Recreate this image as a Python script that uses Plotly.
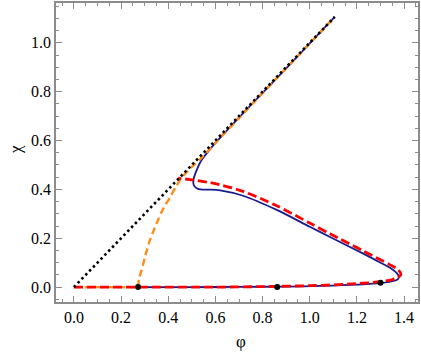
import plotly.graph_objects as go

# diagonal chi = phi
diag_x = [0.0, 1.106]
diag_y = [0.0, 1.106]

# blue solid curve (from top of diagonal, round the loop, back to the left dot)
blue_x = [1.106, 0.90, 0.75, 0.64, 0.575, 0.54, 0.52, 0.507, 0.508, 0.52, 0.545,
          0.58, 0.62, 0.717, 0.86, 1.0, 1.086, 1.227, 1.30, 1.345, 1.368, 1.378,
          1.374, 1.36, 1.30, 1.20, 1.05, 0.90, 0.70, 0.50, 0.272]
blue_y = [1.106, 0.895, 0.745, 0.632, 0.562, 0.518, 0.478, 0.44, 0.418, 0.405, 0.399,
          0.399, 0.396, 0.374, 0.316, 0.247, 0.205, 0.137, 0.100, 0.076, 0.058, 0.043,
          0.033, 0.026, 0.016, 0.010, 0.005, 0.002, 0.001, 0.0, 0.0]

# orange dashed: flat piece then square-root like rise onto the diagonal
orange_flat_x = [0.0, 0.272]
orange_flat_y = [0.0, 0.0]
orange_x = [0.272, 0.276, 0.287, 0.301, 0.322, 0.35, 0.378, 0.407, 0.435, 0.463,
            0.50, 0.54, 0.60, 0.70, 0.85, 1.0, 1.106]
orange_y = [0.0, 0.035, 0.069, 0.123, 0.191, 0.259, 0.32, 0.367, 0.415, 0.455,
            0.492, 0.528, 0.590, 0.692, 0.845, 0.997, 1.106]

# red dashed: bottom branch out to the nose, then upper branch back
red_x = [0.0, 0.30, 0.60, 0.80, 1.0, 1.16, 1.30, 1.35, 1.375, 1.386, 1.384,
         1.37, 1.339, 1.227, 1.086, 1.0, 0.86, 0.717, 0.62, 0.576, 0.50, 0.442]
red_y = [0.0, 0.0, 0.0, 0.002, 0.006, 0.012, 0.022, 0.031, 0.040, 0.050, 0.060,
         0.075, 0.092, 0.148, 0.218, 0.262, 0.333, 0.392, 0.419, 0.428, 0.439, 0.446]

# marked points
pts_x = [0.272, 0.862, 1.300]
pts_y = [0.0, 0.0, 0.018]

SERIF = 'Liberation Serif'

fig = go.Figure()
fig.add_trace(go.Scatter(x=blue_x, y=blue_y, mode='lines',
                         line=dict(color='#1a1a8f', width=1.8, shape='spline', smoothing=0.8)))
fig.add_trace(go.Scatter(x=orange_flat_x, y=orange_flat_y, mode='lines',
                         line=dict(color='#ff8c1a', width=2.4, dash='7px,4px')))
fig.add_trace(go.Scatter(x=orange_x, y=orange_y, mode='lines',
                         line=dict(color='#ff8c1a', width=2.4, dash='7px,4px',
                                   shape='spline', smoothing=0.8)))
fig.add_trace(go.Scatter(x=red_x, y=red_y, mode='lines',
                         line=dict(color='#ff0000', width=2.8, dash='9px,4px',
                                   shape='spline', smoothing=0.8)))
fig.add_trace(go.Scatter(x=diag_x, y=diag_y, mode='lines',
                         line=dict(color='black', width=2.6, dash='2.5px,3px')))
fig.add_trace(go.Scatter(x=pts_x, y=pts_y, mode='markers',
                         marker=dict(color='black', size=6)))

axis_common = dict(
    showgrid=False, zeroline=False,
    showline=True, linecolor='#8c8c8c', linewidth=1.5, mirror='ticks',
    ticks='inside', ticklen=6, tickwidth=1, tickcolor='#8c8c8c',
    dtick=0.2, tickformat='.1f',
    tickfont=dict(family=SERIF, size=16, color='black'),
    minor=dict(dtick=0.05, ticks='inside', ticklen=3.5, tickcolor='#8c8c8c', tickwidth=1),
)

fig.update_layout(
    width=421, height=359,
    margin=dict(l=56, r=3, t=1, b=57),
    paper_bgcolor='white', plot_bgcolor='white',
    showlegend=False,
    font=dict(family=SERIF),
    xaxis=dict(range=[-0.076, 1.459], tick0=0, **axis_common),
    yaxis=dict(range=[-0.061, 1.163], tick0=0, **axis_common),
    annotations=[
        dict(text='φ', x=241, y=359 - 342, xref='paper', yref='paper', showarrow=False,
             xanchor='center', yanchor='middle',
             font=dict(family=SERIF, size=17, color='black')),
        dict(text='χ', x=15, y=359 - 149, xref='paper', yref='paper', showarrow=False,
             xanchor='center', yanchor='middle',
             textangle=-90, font=dict(family=SERIF, size=17, color='black')),
    ],
)

# convert annotation pixel positions into paper coordinates
pw, ph = 421 - 56 - 3, 359 - 1 - 57
for a in fig.layout.annotations:
    a.x = (a.x - 56) / pw
    a.y = (a.y - 57) / ph

fig.write_html("out.html", config={'displayModeBar': False},
               post_script="document.body.style.margin='0';document.body.style.overflow='hidden';")
